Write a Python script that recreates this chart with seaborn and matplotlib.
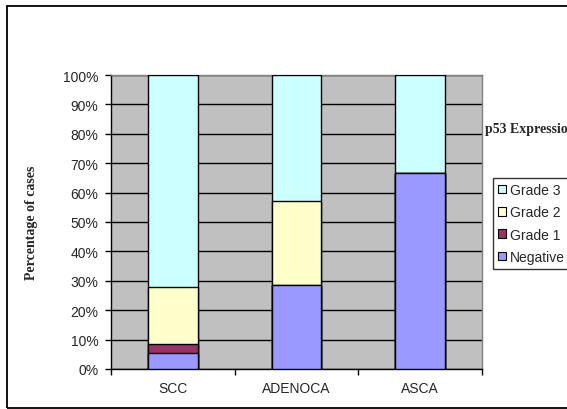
import numpy as np
import pandas as pd
import matplotlib
matplotlib.use("Agg")
import matplotlib.pyplot as plt
import seaborn as sns
from matplotlib.patches import Patch, Rectangle

# data (percent of cases)
categories = ["SCC", "ADENOCA", "ASCA"]
negative = [5.6, 28.6, 66.7]
grade1 = [2.8, 0.0, 0.0]
grade2 = [19.4, 28.5, 0.0]
grade3 = [72.2, 42.9, 33.3]

series_names = ["Negative", "Grade 1", "Grade 2", "Grade 3"]
series_colors = ["#9999FF", "#993366", "#FFFFCC", "#CCFFFF"]

sns.set_style("white")
plt.rcParams["font.family"] = ["Liberation Sans", "DejaVu Sans"]
plt.rcParams["xtick.bottom"] = True
plt.rcParams["ytick.left"] = True

df = pd.DataFrame({"cat": categories, "Negative": negative, "Grade 1": grade1,
                   "Grade 2": grade2, "Grade 3": grade3})
cum = df[series_names].cumsum(axis=1)

fig = plt.figure(figsize=(5.67, 4.10), dpi=100)
ax = fig.add_axes([0.1958, 0.0976, 0.6543, 0.717])
ax.set_facecolor("#C0C0C0")

# stacked bars: draw cumulative totals from the top down
for name, col in reversed(list(zip(series_names, series_colors))):
    sns.barplot(x=df["cat"], y=cum[name], color=col, width=0.4, saturation=1,
                edgecolor="black", linewidth=1, ax=ax, zorder=3)

ax.set_ylim(0, 100)
ax.set_xlim(-0.5, 2.5)
ax.set_yticks(np.arange(0, 101, 10))
ax.set_yticklabels([f"{v}%" for v in range(0, 101, 10)], fontsize=10)
ax.yaxis.grid(True, color="black", linewidth=1)
ax.set_axisbelow(True)
ax.set_xlabel("")
ax.set_ylabel("")

ax.set_xticks([0, 1, 2])
ax.set_xticklabels(categories, fontsize=10)
ax.set_xticks([-0.5, 0.5, 1.5, 2.5], minor=True)
ax.tick_params(axis="x", which="major", length=0, pad=9)
ax.tick_params(axis="x", which="minor", length=4, width=1, color="black",
               direction="out", bottom=True)
ax.tick_params(axis="y", length=4, width=1, color="black", direction="out",
               pad=5, left=True)

for s in ["left", "bottom"]:
    ax.spines[s].set_color("black")
    ax.spines[s].set_linewidth(1)
for s in ["top", "right"]:
    ax.spines[s].set_color("#808080")
    ax.spines[s].set_linewidth(1)

fig.text(0.055, 0.456, "Percentage of cases", rotation=90, ha="center", va="center",
         fontsize=10, fontweight="bold", family="Liberation Serif")
fig.text(0.855, 0.683, "p53 Expression", ha="left", va="center",
         fontsize=10, fontweight="bold", family="Liberation Serif")

handles = [Patch(facecolor=c, edgecolor="black", linewidth=0.8, label=n)
           for n, c in reversed(list(zip(series_names, series_colors)))]
leg = fig.legend(handles=handles, loc="upper left", bbox_to_anchor=(0.8695, 0.5634),
                 fontsize=10, frameon=True, fancybox=False, handlelength=0.6,
                 handleheight=0.6, handletextpad=0.3, labelspacing=0.6,
                 borderpad=0.35, borderaxespad=0)
leg.get_frame().set_edgecolor("black")
leg.get_frame().set_linewidth(1)

fig.patches.append(Rectangle((0.0115, 0.0024), 1.2, 0.981, transform=fig.transFigure,
                             fill=False, edgecolor="black", linewidth=1.3))

fig.savefig("out.png", dpi=100)
